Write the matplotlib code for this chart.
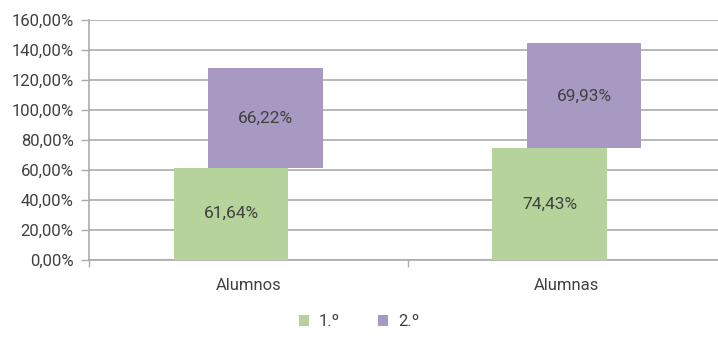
import matplotlib
matplotlib.use("Agg")
import matplotlib.pyplot as plt
from matplotlib.patches import Patch
import numpy as np

categories = ["Alumnos", "Alumnas"]
series_names = ["1.º", "2.º"]
first = [61.64, 74.43]
second = [66.22, 69.93]
yticks = [0, 20, 40, 60, 80, 100, 120, 140, 160]

green = "#B5D39B"
purple = "#A899C3"
grid_c = "#ABABAB"
text_c = "#404040"

plt.rcParams['font.family'] = ['Roboto', 'DejaVu Sans']
plt.rcParams['font.weight'] = 'normal'

fig = plt.figure(figsize=(7.18, 3.41), dpi=100)
ax = fig.add_axes([89/718, (341-260)/341, (726-89)/718, 240/341])

x = np.arange(len(categories))
off = 0.054
w = 0.36
ax.bar(x - off, first, width=w, color=green, zorder=3)
ax.bar(x + off, second, width=w, bottom=first, color=purple, zorder=3)

for i in range(len(categories)):
    ax.text(x[i] - off, first[i] / 2, f"{first[i]:.2f}%".replace(".", ","),
            ha="center", va="center", fontsize=12.5, color=text_c, zorder=4)
    ax.text(x[i] + off, first[i] + second[i] / 2, f"{second[i]:.2f}%".replace(".", ","),
            ha="center", va="center", fontsize=12.5, color=text_c, zorder=4)

ax.set_ylim(0, 160)
ax.set_xlim(-0.5, len(categories) - 0.5)
ax.set_yticks(yticks)
ax.set_yticklabels([f"{v:.2f}%".replace(".", ",") for v in yticks])
ax.yaxis.grid(True, color=grid_c, linewidth=1.2, zorder=0)
ax.set_axisbelow(True)

ax.set_xticks(x)
ax.set_xticklabels(categories)
ax.set_xticks(np.arange(-0.5, len(categories)), minor=True)
ax.tick_params(axis="x", which="major", length=0, pad=13, labelsize=12, labelcolor=text_c)
ax.tick_params(axis="x", which="minor", length=5, color=grid_c, width=1)
ax.tick_params(axis="y", length=6, color=grid_c, width=1, pad=5, labelsize=12, labelcolor=text_c)

for s in ["top", "right"]:
    ax.spines[s].set_visible(False)
for s in ["left", "bottom"]:
    ax.spines[s].set_color(grid_c)
    ax.spines[s].set_linewidth(1.2)

handles = [Patch(facecolor=green, label=series_names[0]),
           Patch(facecolor=purple, label=series_names[1])]
fig.legend(handles=handles, loc="center", bbox_to_anchor=(359/718, 1 - 322/341),
           ncol=2, frameon=False, fontsize=12, handlelength=0.6, handleheight=0.6,
           handletextpad=0.6, columnspacing=2.3, labelcolor=text_c)

fig.savefig("out.png", dpi=100)
